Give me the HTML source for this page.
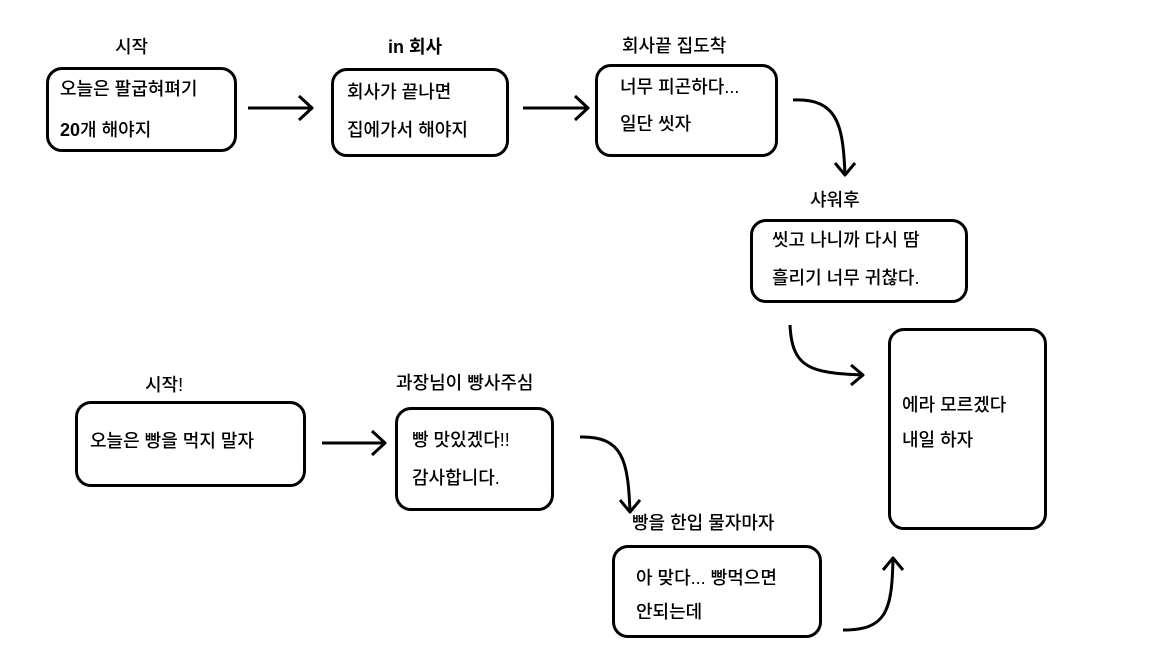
<!DOCTYPE html>
<html><head><meta charset="utf-8"><style>
body{margin:0;width:1152px;height:648px;background:#fff;position:relative;overflow:hidden;font-family:"Liberation Sans","Noto Sans CJK KR",sans-serif;font-size:18px;color:#000;font-weight:500}
.b{position:absolute;border:3px solid #000;border-radius:16px;box-sizing:border-box}
.t{position:absolute;white-space:nowrap;line-height:1}
svg{position:absolute;left:0;top:0}
</style></head><body>
<div class="b" style="left:46px;top:67px;width:191px;height:85px"></div>
<div class="b" style="left:331px;top:68px;width:178px;height:89px"></div>
<div class="b" style="left:595px;top:64px;width:183px;height:93px"></div>
<div class="b" style="left:750px;top:219px;width:218px;height:84px"></div>
<div class="b" style="left:888px;top:328px;width:159px;height:202px"></div>
<div class="b" style="left:75px;top:401px;width:231px;height:86px"></div>
<div class="b" style="left:395px;top:407px;width:159px;height:104px"></div>
<div class="b" style="left:612px;top:545px;width:210px;height:93px"></div>

<div class="t" style="left:115px;top:38px">시작</div>
<div class="t" style="left:388px;top:38px;font-weight:700">in 회사</div>
<div class="t" style="left:622px;top:37px">회사끝 집도착</div>
<div class="t" style="left:810px;top:191px">샤워후</div>
<div class="t" style="left:145px;top:376px">시작!</div>
<div class="t" style="left:396px;top:374px">과장님이 빵사주심</div>
<div class="t" style="left:632px;top:514px">빵을 한입 물자마자</div>

<div class="t" style="left:60px;top:80px">오늘은 팔굽혀펴기</div>
<div class="t" style="left:60px;top:121px"><b>20</b>개 해야지</div>
<div class="t" style="left:347px;top:83px">회사가 끝나면</div>
<div class="t" style="left:347px;top:121px">집에가서 해야지</div>
<div class="t" style="left:620px;top:78px">너무 피곤하다...</div>
<div class="t" style="left:620px;top:115px">일단 씻자</div>
<div class="t" style="left:772px;top:231px">씻고 나니까 다시 땀</div>
<div class="t" style="left:772px;top:269px">흘리기 너무 귀찮다.</div>
<div class="t" style="left:902px;top:396px">에라 모르겠다</div>
<div class="t" style="left:902px;top:431px">내일 하자</div>
<div class="t" style="left:90px;top:432px">오늘은 빵을 먹지 말자</div>
<div class="t" style="left:412px;top:431px">빵 맛있겠다!!</div>
<div class="t" style="left:412px;top:469px">감사합니다.</div>
<div class="t" style="left:636px;top:569px">아 맞다... 빵먹으면</div>
<div class="t" style="left:636px;top:603px">안되는데</div>

<svg width="1152" height="648" fill="none" stroke="#000" stroke-width="3" stroke-linejoin="round">
<path d="M248 108H312M299 96L312 108L299 120"/>
<path d="M523 108H588M575 96L588 108L575 120"/>
<path d="M793 100C838 98 843 125 845 175M835 163L845 175L855 163"/>
<path d="M790 325C792 368 810 373 863 375M851 365L863 375L851 385"/>
<path d="M322 443H385M372 431L385 443L372 455"/>
<path d="M580 437C623 436 628 460 630 512M620 500L630 512L640 500"/>
<path d="M843 630C886 630 892 612 893 558M883 570L893 558L903 570"/>
</svg>
</body></html>
